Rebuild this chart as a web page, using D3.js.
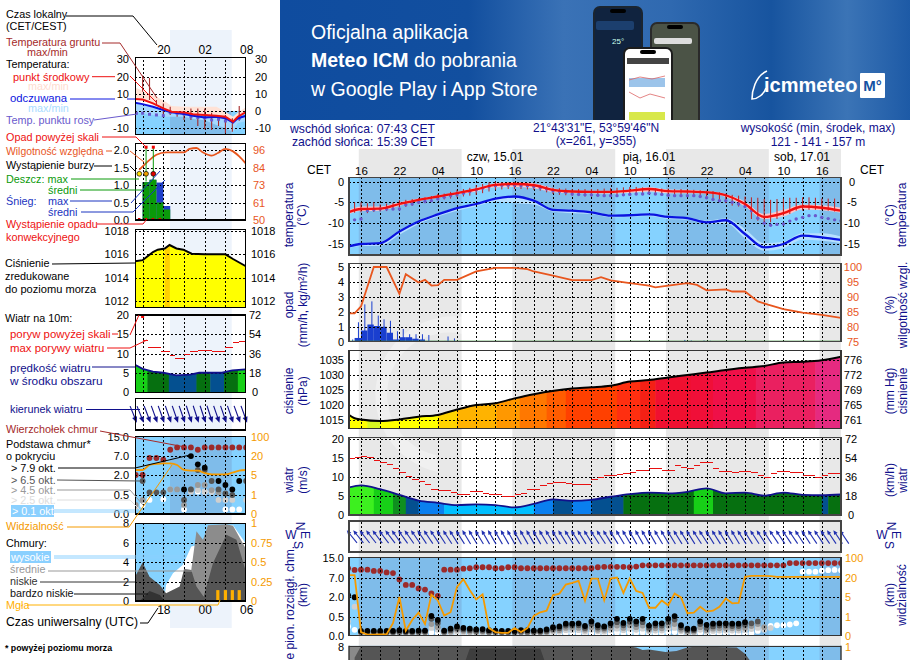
<!DOCTYPE html>
<html><head><meta charset="utf-8">
<script src="https://cdn.jsdelivr.net/npm/d3@7/dist/d3.min.js"></script>
<style>html,body{margin:0;padding:0;background:#fff}svg{display:block}text{font-family:"Liberation Sans",Arial,sans-serif}</style>
</head><body><script>
// ---------- time axes ----------
const hours = d3.range(-2,76);
const gridHours = d3.range(0,73,3);
const labelHours = d3.range(0,73,6);
const hourLabels = ["16","22","04","10","16","22","04","10","16","22","04","10","16"];
const dayNames = ["czw, 15.01","pią, 16.01","sob, 17.01"];
const nightSpans = [[-0.35,15.72],[23.65,39.72],[47.65,63.72],[71.65,76]];
// ---------- main: temperature ----------
const lineHours = [-2,0,3,6,9,12,15,18,21,24,27,30,33,36,39,42,45,48,51,54,57,60,63,66,69,72,75];
const tempMid = [-7.4,-6.6,-6.5,-5.4,-4.4,-3.6,-2.8,-1.9,-.8,-.6,-.9,-2,-2.4,-2.5,-2.5,-2.2,-1.8,-2.3,-2.4,-2.6,-3.3,-5.4,-8.5,-7.6,-6,-6.3,-7];
const tempMidHi = [-7,-6,-6,-5,-4.1,-3.3,-2.5,-1.5,-.4,-.1,-.4,-1.6,-2.2,-2.2,-2.2,-1.9,-1.4,-1.9,-2,-2.3,-3,-4.8,-7.8,-6.8,-5.5,-5.7,-6.3];
const tempMidLo = [-7.9,-7.1,-7,-5.8,-4.7,-3.9,-3.2,-2.4,-1.4,-1.3,-1.6,-2.5,-2.8,-2.8,-2.9,-2.7,-2.4,-2.8,-2.8,-2.9,-3.7,-6,-9,-8.4,-6.7,-6.9,-7.5];
const tempFeel = [-15.6,-15,-14.8,-12,-9.6,-7.9,-6.4,-5.4,-4.1,-3.6,-4.6,-6.8,-7,-7.4,-8.2,-8.1,-7.9,-8.5,-8.8,-9.8,-9.3,-12.6,-15.8,-15,-13,-13.4,-14];
const tempFeelHi = [-15.4,-14.8,-14.5,-11.7,-9.4,-7.7,-6.2,-5.2,-3.9,-3.4,-4.4,-6.6,-6.8,-7.2,-8,-7.9,-7.7,-8.3,-8.6,-9.4,-8.9,-11.4,-14.8,-14.4,-12.4,-12.4,-13.2];
const tempFeelLo = [-16,-15.5,-15.4,-12.8,-10.2,-8.4,-7,-6,-4.8,-5.2,-5.5,-7.2,-7.6,-7.8,-8.6,-8.5,-8.3,-9,-9.2,-10.2,-10,-13.6,-16.6,-16,-14,-14.2,-14.8];
const dewPoint = [-9.4,-9.2,-9,-7,-6.8,-6.6,-6.6,-6.6,-6.6,-5.6,-5.4,-5,-4.8,-4.6,-4.2,-3.8,-3.4,-3.1,-2.8,-2.4,-2,-1.6,-1.2,-1,-.9,-.9,-.9,-1,-1,-1.2,-1.5,-1.8,-2.2,-2.4,-2.6,-3,-3.1,-3.2,-3.2,-3.3,-3.4,-3.4,-3.4,-3.2,-3.1,-3,-3,-2.8,-3,-3.1,-3.3,-3.4,-3.4,-3.4,-3.4,-3.6,-3.9,-4.3,-4.6,-4.6,-5,-5.4,-6,-7,-8.8,-10,-10.5,-10.3,-10.2,-9.5,-9,-8.6,-8.2,-8.2,-8.6,-8.9,-9.2,-9.4];
const groundHours = d3.range(-1,76);
const groundMax = [-5,-5,-5.2,-5,-5.5,-5.3,-5.1,-4.5,-4.4,-4.2,-4,-3.8,-3.5,-3,-2.9,-2.5,-2,-1.8,-1.5,-.9,-.6,-.2,0,-.2,-.2,-.2,-.3,-.4,-.5,-.8,-1.1,-1.5,-1.6,-1.7,-1.8,-1.8,-1.8,-1.8,-1.8,-1.7,-1.6,-1.5,-1.4,-1.3,-1.3,-1.4,-1.5,-1.6,-1.7,-1.7,-1.8,-1.8,-1.9,-2,-2.1,-2.2,-2.3,-2.6,-2.9,-3.2,-3.4,-3.6,-3.8,-3.9,-4.2,-4.4,-4.2,-4.1,-3.9,-3.9,-3.8,-3.8,-3.9,-4.1,-4.1,-4.1,-4.1];
const groundMin = [-7.5,-7.4,-7.6,-7.3,-7.2,-7.1,-6.8,-6.2,-6.1,-5.8,-5.3,-5.2,-4.9,-4.4,-4.3,-4.1,-3.8,-3.6,-3.4,-3.2,-2.8,-2.4,-2,-1.9,-1.8,-1.8,-1.8,-1.9,-2,-2.2,-2.6,-3,-3.2,-3.3,-3.4,-3.5,-3.6,-3.6,-3.6,-3.5,-3.4,-3.2,-3,-2.9,-2.9,-3,-3,-3.1,-3.1,-3.2,-3.2,-3.2,-3.3,-3.4,-3.5,-3.7,-4,-4.6,-5.2,-5.8,-6,-6.2,-9,-9.4,-9.8,-9.8,-9,-8.2,-7.8,-7,-7,-6.8,-6.8,-6.8,-7,-7.2,-7.4];
// ---------- main: precipitation, humidity ----------
const rainHours = [-1,0,1,2,3,4,5,6,7,8,9,10,11,13];
const rainMean = [.25,.75,1.15,1.05,1,.6,.15,.3,.3,.2,.15,.05,.05,.05];
const spikeHours = [-1.3,-.4,.6,1.7,2.7,3.6,4.6,5.7,6.6,7.6,8.6,9.6,10.6,13.6,14.6,17.6,26.6,38.6,45.6,50.6,51.6,53.6,54.6,56.6];
const spikeMax = [.15,1.3,2.5,2.7,1.75,1.5,1.4,.7,.85,.5,.5,.5,.45,.35,.22,.03,.03,.03,.03,.12,.08,.08,.06,.03];
const humHours = [-2,-1,0,2,4,6,7,9,10,11,12,13,15,18,21,24,26,27,30,33,36,37.5,39,42,45,46,48,51,52.5,54,57,58,60,62,63.6,66,69,72,75];
const humidity = [84.5,84.5,86.8,100,100,91,97.6,94.8,95.7,93.8,93.9,95.7,95.7,98.5,99.7,99.7,99.3,98.5,97.1,95.6,95.6,96.6,95.5,94.6,93.8,93.2,93.8,94.6,94,92.2,92.5,91.8,91.8,88.5,87.4,85.9,84.7,84,83];
// ---------- main: pressure ----------
const presHours = [-2,-1,0,3,6,9,12,15,18,21,24,27,33,36,39,42,45,48,51,54,57,60,63,66,69,72,75];
const pressure = [1016.9,1015.6,1015.2,1014.7,1015.2,1016.1,1016.7,1018.5,1020,1020.6,1022.2,1023.6,1025.5,1025.9,1026.4,1027.8,1028.3,1029.2,1030,1030.8,1031.7,1032.4,1033,1034.2,1034.4,1034.9,1036.1];
const presEdges = [-2,1,3,12,15,21.2,24.8,29,32,40,43.6,46,51.5,55,61.7,71,76];
const presColors = ["#ffff00","#d8f820","#ffff00","#ffd400","#ffb300","#ff9800","#ff7800","#ff5c00","#ff4000","#ff2f10","#f42015","#f01030","#f00f38","#ef1048","#ea2060","#e52a80"];
// ---------- main: wind ----------
const windSpeed = [7.2,7.8,6.8,5.3,3.8,3.2,2.6,2.8,2.6,2,2.9,4.1,3.7,4,4.8,5.5,5.9,5.7,6.1,7,5.7,5.9,5.1,5.9,5.3,5.2,5.4];
const windEdges = [-2,2,5,7,9,13,27,30,33,36,41,52,55,72,73,76];
const windColors = ["#3df01f","#17cf17","#0f8f1f","#045090","#0a7fef","#00bfff","#0a7fef","#045090","#0a7fef","#045090","#067010","#17cf17","#067010","#045090","#067010"];
const gusts = [15,15.2,15.5,15.2,14.4,13.8,13.2,12.3,11.3,10.2,9.3,8.8,7.9,6.8,6.4,6.4,5.8,5.5,5.5,6.3,6.3,5.7,5.5,5.5,5,5,5.4,5.7,6.6,6.6,7.8,8.4,8.6,8.6,8.2,7.9,8.1,8.1,9.4,10,10.4,10.4,10.6,11,11.2,11.7,11.7,12.2,12.2,11.7,11.7,12.9,12.4,12.2,12.9,13.7,13.7,12.3,11.5,11.5,11.2,11.5,11.5,11.2,10.4,10,10.8,11.5,11.5,11.3,11.1,10.5,10.5,10,10.5,11,11];
const windDir = [141,141,142,142,143,143,143,144,144,145,145,146,146,146,147,147,148,148,149,149,149,150,150,150,150,151,151,150,150,150,149,149,149,148,148,148,148,148,147,147,148,148,149,149,150,150,150,150,149,149,149,148,148,148,147,147,148,148,149,149,149,148,148,147,147,147,146,146,146,146,147,147,146,146,146,146,146,146];
// ---------- main: cloud base ----------
const cloudTop = [10.8,10.1,10.2,10.2,9.7,9.7,9.1,8.8,6.5,5.1,5.1,4.2,3.9,2.9,2.3,10.2,10.2,10.2,10.6,10.8,11.2,11.2,11.2,10.8,10.8,11.2,11.2,10.8,10.8,10.8,10.8,10.8,10.8,10.8,10.8,10.8,10.8,10.8,10.8,11.2,11.4,11.4,11.4,11.4,11.2,11.5,12,12,12,12,12,12,12,12,12,12,12,12,12,12,12,12,12,12,12,12,12,12,12,12.9,12.9,12.9,12.9,12.9,12.9,12.9,12.9,12.9];
const n = null;
const base79 = [2.43,1.98,.12,.12,.12,.12,.12,.12,.14,.12,.12,.13,.13,.54,.41,.13,.18,.24,.2,.18,.16,.17,.14,.13,.12,.12,.12,.14,.14,.13,.13,.16,.22,.24,.31,.31,.32,.25,.37,.27,.24,.32,.44,.33,.44,.37,.44,.26,.32,.32,.44,.53,.27,.18,.18,.37,.28,.31,.32,.32,.31,.31,.35,n,n,n,n,n,n,n,n,n,n,n,n,n,n,n];
const base65 = [n,n,.09,.09,.09,.09,.09,.09,.1,.09,.09,.1,.1,.44,.33,.1,.14,.19,.16,.14,.12,.13,.1,.1,.09,.09,.09,.1,.1,.1,.1,.12,.17,.19,.26,.26,.27,.2,.3,.21,.2,.27,.35,.27,.36,.3,.35,.2,.26,.26,.35,.42,.21,.14,.14,.3,.2,.24,.26,.26,.25,.25,.28,.32,.37,n,n,n,n,n,n,n,n,n,n,n,n,n];
const base45 = [n,n,.07,.07,.07,.07,.07,.07,.08,.07,.07,.08,.08,.3,.22,.08,.1,.15,.12,.1,.09,.1,.08,.08,.07,.07,.07,.08,.08,.08,.08,.09,.13,.14,.2,.2,.2,.15,.22,.15,.15,.2,.26,.2,.27,.22,.26,.15,.19,.19,.26,.3,.15,.1,.1,.22,.14,.18,.19,.19,.19,.19,.2,.25,.3,.22,n,n,n,n,n,n,n,n,n,n,n,n];
const base25 = [.37,1.25,.05,.05,.05,.05,.05,.05,.06,.05,.05,.06,.06,.2,.15,.06,.07,.1,.08,.07,.06,.07,.06,.06,.05,.05,.05,.06,.06,.06,.06,.07,.09,.1,.14,.14,.14,.1,.15,.11,.1,.14,.18,.14,.18,.15,.18,.11,.13,.13,.18,.2,.11,.07,.07,.15,.1,.12,.13,.13,.13,.13,.14,.17,.2,.15,.2,n,n,n,n,n,n,n,n,n,n,n];
const base01 = [.24,.15,.02,.02,.02,.02,.02,.02,.03,.02,.02,.03,.03,.08,.06,.03,.04,.05,.04,.04,.03,.04,.03,.03,.02,.02,.02,.03,.03,.03,.03,.04,.05,.05,.06,.06,.06,.05,.07,.05,.05,.06,.08,.06,.08,.07,.08,.05,.06,.06,.08,.09,.05,.04,.04,.07,.05,.06,.06,.06,.06,.04,.04,.06,.12,.19,.25,.27,.27,.29,.32,n,n,n,n,n,n,n];
const baseHighHours = [69,70,71,72,73,74,75];
const baseHigh = [9.4,9.4,9.4,9.8,10,10.1,10];
const visibility = [29.8,29.8,.18,.05,.05,.06,.07,.65,5,.25,.82,1.8,.6,6.8,4.3,1.2,1.87,12.8,18.7,10.2,4.5,7,.39,.18,.14,.14,.39,.18,.39,1.13,1.87,2.2,6.3,7.6,14.6,15.9,17.4,4.2,19.2,19.2,4.3,19.2,20,8.1,19.2,9.7,8.1,2.8,2.8,4.3,3.3,7.6,4.9,1.67,1.8,3,2,2.2,3,4.7,3.7,3.8,22.8,27,27,27,26,22.8,22.8,22.8,22.8,22.8,22.8,22.8,22.8,22.8,22.8,22.8];
// ---------- main: cloud cover (top strip) ----------
const midHours = [-2,0];
const midCloud = [8.1,8.1];
const lowHours = [-1,0,41.5,43,44,45,47.6,49.3,51,52.5,58.7,60,60.8,61.5];
const lowCloud = [6.9,8.1,8.1,7.95,7.7,7.75,7.5,7.6,7.95,8.05,7.95,7.3,6.6,5];
const vlowHours = [16,17,28,29];
const vlowCloud = [6,7.85,7.85,6];
const fogHours = [0,1.1,2.1,3,4];
const fogLevel = [.5,.5,.5,.5,.5];
// ---------- mini (today) ----------
const miniHours = d3.range(-4,13);
const miniGrid = [-3,0,3,6,9];
const miniTop = ["20","02","08"], miniBottom = ["18","00","06"];
const miniNight = [0.97,9.91];
const mLineHours = [-4.1,-3,-1.5,0,1.2,3,4.3,6,7.7,9,10.1,10.8,11.9];
const mTemp = [7,6.7,4.4,1.5,-.4,-.8,-1.9,-2.3,-2.7,-3.3,-6.2,-3.3,-.8];
const mFeel = [4.8,4,2.5,.6,-.8,-1.7,-2.7,-3.8,-3.3,-4.2,-6.7,-4.2,-2.9];
const mTempHi = [13.6,11.7,9.2,6.3,2.9,2.5,2.5,2.5,2.5,-.4,-3.3,-1,2];
const mFeelLo = [-.8,-1.5,-2.3,-3.3,-3.3,-3.3,-4.6,-5.4,-8.1,-10,-12,-7,-6];
const mDewHours = [-3.9,-3,-2,-1,0,1,2,3,4,5,6,7,8,9,11];
const mDew = [-1.3,-1.3,-1.9,-2.3,-2.7,-.8,-1.3,-1.7,-3.3,-3.8,-4,-5.2,-4.8,-5.8,-4.2];
const mGroundHours = [-3,-2,-1,0,1,2,3,4,5,6,7,8,9,10,11];
const mGroundMax = [20.6,19.2,6.4,4.4,2.5,-.4,-.4,1.5,1.5,1.5,-1,-2.3,-2.3,-4.2,2.9];
const mGroundMin = [11.2,6.4,3.5,-2.3,-2.3,-3.3,-5.2,-5.2,-8.7,-10.6,-11,-8.7,-12.9,-12,-5.6];
const mRainHours = [-4.1,-3,-2,-1,0,1];
const mRain = [.93,1.08,1.15,.5,.3,.02];
const mSnow = [0,0,0,1.07,.4,0];
const mHumHours = [-3.5,-2.5,-1,.4,3,3.8,4.8,5.7,7,7.9,9,10.1,11,11.9];
const mHumidity = [83,87.4,92.9,94.5,94.5,96.7,97.3,94.5,92.3,94,96.7,95.1,91.8,87.4];
const mThunderHours = [-3.48,-2.5,-1.45];
const mThunderColors = ["#ffe000","#f0a000","#e00000"];
const mOverHours = [-2.5,-1.45];
const mConvective = [-3.5,-2.5,-1.5,-.5];
const mPresHours = [-4.1,-3,-1.5,-.8,.2,.9,1.9,2.9,4.1,6,9,10.1,11.9];
const mPressure = [1015.4,1015.5,1016.2,1016.4,1016.5,1016.8,1016.5,1016.4,1016.05,1016,1016,1015.6,1015];
const mPresEdges = [-4.1,.2,.95,11.9];
const mPresColors = ["#ffff00","#ffd000","#ffff00"];
const mWindHours = [-4.1,-3,-1.5,0,1.9,3.9,5.2,8.5,10,11.9];
const mWind = [7.1,6,5.3,5,4.3,4.5,5,5,5.6,5.9];
const mWindEdges = [-4.1,-2.3,.8,4.8,6.8,8.8,10.8,11.9];
const mWindColors = ["#17cf17","#067010","#045090","#067010","#045090","#067010","#17cf17"];
const mGustStart = [-3,-2.2,-.3,.9,1.7,3,3.9,5,7,9,10.1,10.9];
const mGustEnd   = [-2.2,-.3,.9,1.7,3,3.9,5,7,9,10.1,10.9,11.9];
const mGust = [13.5,11.6,10.6,9.6,8.8,9.7,10.5,10.9,10.6,11.6,12.8,13];
const mDir = [338,338,339,340,340,341,341,341,342,342,342,342,341,341,341,340,340];
const mCloudTop = [2,2,6.4,6.4,6,9.5,10.5,10.5,10.5,9.5,10.5,10.5,10.5,10.5,10.5,10.5,10.5];
const mBase79 = [n,n,n,n,n,n,n,.92,6.9,4.76,3.9,n,1.55,1.25,.92,1.55,n];
const mBase65 = [n,1.55,.7,.7,.7,n,n,.37,.92,3.3,3.3,1.55,.92,.62,.5,n,1.55];
const mBase45 = [.24,.37,n,n,n,.92,.92,.24,.92,1.25,1.25,.87,.7,n,n,n,n];
const mBase25 = [.19,n,n,n,n,.92,n,n,.75,.87,.75,.75,.37,.37,.37,n,.37];
const mBase01 = [n,.24,.37,n,.39,n,n,.12,n,.75,.75,.75,n,.12,.12,.12,n];
const mVis = [8.9,8.9,12.8,13.6,14.1,14.1,12.8,8.9,8.4,8.4,6.5,5.5,5.5,5.5,6.8,8.4,8.9];
const mHighHours = [.1,.4,1.4,2.85,4.05,5.25,6.2,7.2,10.1,11.9];
const mHigh = [0,1.66,2.86,3.72,5.62,5.8,6.66,7.7,7.8,5.97];
const mMidHours = [2.37,3,4.05,4.8,5.75,6.47,9.13,10.1,11.9];
const mMid = [0,3.28,3.2,7.17,6.3,7.8,7.9,7.75,5.45];
const mLowHours = [-4.1,-3,-2,-.5,.4,2.37,3,4.05,4.8,5.85,7.2,9.13,10.6,11.9];
const mLow = [2.5,3.97,2.5,1.66,.8,1.5,3.28,3.2,1.5,.45,3.9,6.83,6.3,3.2];
const mVlowHours = [-3.4,-2,-.5,.2];
const mVlow = [0,1.03,.62,0];
const mFogHours = [7.9,9,10,11];
const mFog = [.14,.14,.14,.14];

// ---------- layout ----------
const X = d3.scaleLinear().domain([-1.875,75]).range([349,841]);
const MX = d3.scaleLinear().domain([-4.06,11.88]).range([135.3,245.3]);
const ORANGE="#f59a00", HUM="#e8561e", NAVY="#10108c", NIGHTB="#7fbcea", DAYB="#85d2ff";
const TS=11, LS=10.8;
const svg = d3.select("body").append("svg").attr("width",910).attr("height",660);
const defs = svg.append("defs");
let clipN=0;
function clipRect(x0,y0,x1,y1){const id="c"+(++clipN);defs.append("clipPath").attr("id",id).append("rect").attr("x",x0).attr("y",y0).attr("width",x1-x0).attr("height",y1-y0);return id;}
function T(p,s,x,y,o={}){return p.append("text").attr("x",x).attr("y",y).attr("dy",".35em").attr("font-size",o.size||12).attr("font-weight",o.weight||null).attr("fill",o.fill||"#000").attr("text-anchor",o.anchor||"start").attr("font-family",o.font||null).text(s);}
function VT(p,s,x,y,o={}){return p.append("text").attr("transform",`translate(${x},${y}) rotate(-90)`).attr("dy",".35em").attr("font-size",o.size||12).attr("fill",o.fill||NAVY).attr("text-anchor",o.anchor||"middle").text(s);}
function yTicks(p,scale,vals,fmt,x,anchor,color,size){
  const g=p.append("g").attr("transform",`translate(${x},0)`).call(d3.axisLeft(scale).tickValues(vals).tickFormat((d,i)=>fmt[i]).tickSize(0).tickPadding(0));
  g.select(".domain").remove();
  g.selectAll("text").attr("x",0).attr("text-anchor",anchor).attr("fill",color).attr("font-size",size||TS).attr("font-family",null);
  return g;
}
function grid(p,xs,xv,ys,yv,y0,y1){
  const x0=xs.range()[0],x1=xs.range()[1];
  const gx=p.append("g").attr("transform",`translate(0,${y1})`).call(d3.axisBottom(xs).tickValues(xv).tickSize(y0-y1).tickFormat(""));
  gx.select(".domain").remove();
  gx.selectAll("line").attr("stroke","#000").attr("stroke-dasharray","2,2").attr("shape-rendering","crispEdges");
  if(yv&&yv.length){
    const gy=p.append("g").attr("transform",`translate(${x0},0)`).call(d3.axisRight(ys).tickValues(yv).tickSize(x1-x0).tickFormat(""));
    gy.select(".domain").remove();
    gy.selectAll("line").attr("stroke","#000").attr("stroke-dasharray","2,2").attr("shape-rendering","crispEdges");
  }
}
function frame(p,xs,y0,y1,c,w){const r=xs.range();p.append("rect").attr("x",r[0]).attr("y",y0).attr("width",r[1]-r[0]).attr("height",y1-y0).attr("fill","none").attr("stroke",c).attr("stroke-width",w).attr("shape-rendering","crispEdges");}
function lineOf(xs,ys,hs,curve){return d3.line().defined(d=>d!=null).x((d,i)=>xs(hs[i])).y(d=>ys(d)).curve(curve||d3.curveLinear);}
function bandArea(xs,ys,hs,hi,lo,curve){return d3.area().x((d,i)=>xs(hs[i])).y0((d,i)=>ys(lo[i])).y1((d,i)=>ys(hi[i])).curve(curve||d3.curveLinear)(hs);}
function dots(p,xs,ys,hs,vals,color,r){
  p.append("g").selectAll("circle").data(hs.map((h,i)=>({h,v:vals[i]})).filter(d=>d.v!=null&&d.v!==undefined)).join("circle")
   .attr("cx",d=>xs(d.h)).attr("cy",d=>ys(d.v)).attr("r",r).attr("fill",color);
}
function colorBands(p,xs,edges,colors,y0,y1,clipId){
  p.append("g").attr("clip-path",`url(#${clipId})`).selectAll("rect").data(colors).join("rect")
   .attr("x",(d,i)=>xs(edges[i])).attr("width",(d,i)=>xs(edges[i+1])-xs(edges[i])+.5).attr("y",y0).attr("height",y1-y0).attr("fill",d=>d);
}
function clipPathOf(d){const id="c"+(++clipN);defs.append("clipPath").attr("id",id).append("path").attr("d",d);return id;}
function arrows(p,xs,hs,dirs,yHead,L,hw,col){
  p.append("g").selectAll("g").data(hs).join("g").attr("transform",(h,i)=>`translate(${xs(h)},${yHead}) rotate(${dirs[i]})`).each(function(){
    const g=d3.select(this);
    g.append("line").attr("y1",0).attr("y2",-L).attr("stroke",col).attr("stroke-width",1.1);
    g.append("path").attr("d",`M0,${hw*1.1}L${-hw},${-hw*1.2}L${hw},${-hw*1.2}Z`).attr("fill",col);
  });
}
function dayNightBg(p,xs,spans,y0,y1){
  const r=xs.range();
  p.append("rect").attr("x",r[0]).attr("y",y0).attr("width",r[1]-r[0]).attr("height",y1-y0).attr("fill",DAYB);
  p.append("g").selectAll("rect").data(spans).join("rect").attr("x",d=>Math.max(r[0],xs(d[0]))).attr("width",d=>Math.min(r[1],xs(d[1]))-Math.max(r[0],xs(d[0]))).attr("y",y0).attr("height",y1-y0).attr("fill",NIGHTB);
}

// ---------- banner ----------
const bgrad=defs.append("linearGradient").attr("id","bn").attr("x1","0").attr("x2","1").attr("y1","0").attr("y2","0");
[[0,"#0f4c9f"],[.3,"#124f9f"],[.45,"#3a72b6"],[.62,"#2f69b0"],[.78,"#17549f"],[.9,"#3b74b6"],[1,"#1d5aa6"]].forEach(s=>bgrad.append("stop").attr("offset",s[0]).attr("stop-color",s[1]));
const bn=svg.append("g").attr("clip-path",`url(#${clipRect(280,0,910,120)})`);
bn.append("rect").attr("x",280).attr("y",0).attr("width",630).attr("height",120).attr("fill","url(#bn)");
const OS='"Open Sans","Liberation Sans",sans-serif';
T(bn,"Oficjalna aplikacja",311,32,{size:19.5,fill:"#fff",font:OS});
const t2=T(bn,"",311,60,{size:19.5,fill:"#fff",font:OS});
t2.append("tspan").attr("font-weight",700).text("Meteo ICM");t2.append("tspan").text(" do pobrania");
T(bn,"w Google Play i App Store",311,89,{size:19.5,fill:"#fff",font:OS});
[[593,6,50,114,"#1b2530","#10233f"],[650,22,50,98,"#2a2a2a","#4b5346"]].forEach(a=>{
  bn.append("rect").attr("x",a[0]).attr("y",a[1]).attr("width",a[2]).attr("height",a[3]+10).attr("rx",7).attr("fill",a[4]);
  bn.append("rect").attr("x",a[0]+2).attr("y",a[1]+2).attr("width",a[2]-4).attr("height",a[3]+6).attr("rx",5).attr("fill",a[5]);
  bn.append("rect").attr("x",a[0]+17).attr("y",a[1]+3).attr("width",16).attr("height",4).attr("rx",2).attr("fill","#000");
});
bn.append("rect").attr("x",596).attr("y",21).attr("width",38).attr("height",9).attr("rx",2).attr("fill","#1c3f6e");
T(bn,"25°",612,41,{size:8,fill:"#cfe",font:OS});
bn.append("rect").attr("x",654).attr("y",38).attr("width",38).attr("height",6).attr("rx",2).attr("fill","#ddd");
bn.append("rect").attr("x",623).attr("y",47).attr("width",50).attr("height",80).attr("rx",7).attr("fill","#1c1c1c");
bn.append("rect").attr("x",625).attr("y",49).attr("width",46).attr("height",76).attr("rx",5).attr("fill","#fff");
bn.append("rect").attr("x",640).attr("y",50).attr("width",16).attr("height",4).attr("rx",2).attr("fill","#000");
bn.append("rect").attr("x",627).attr("y",58).attr("width",42).attr("height",6).attr("fill","#444");
bn.append("rect").attr("x",629).attr("y",78).attr("width",36).attr("height",9).attr("fill","#9cc4ea");
bn.append("rect").attr("x",629).attr("y",112).attr("width",36).attr("height",8).attr("fill","#d8e84a");
bn.append("path").attr("d","M629,80L640,77L652,79L665,76M629,92L640,98L650,94L665,98").attr("fill","none").attr("stroke","#d66").attr("stroke-width",.8);
T(bn,"icmmeteo",764,85,{size:20,fill:"#fff",weight:700,font:OS});
bn.append("path").attr("d","M767,71C755,76 752,92 752,99C758,99 764,94 766,88").attr("fill","none").attr("stroke","#fff").attr("stroke-width",1.6);
bn.append("rect").attr("x",860).attr("y",73).attr("width",25).attr("height",25).attr("rx",1).attr("fill","#fff");
T(bn,"M°",872.5,85.5,{size:15,fill:"#1452a3",weight:700,anchor:"middle",font:OS});

// ---------- mini highlight ----------
svg.append("rect").attr("x",170).attr("y",30).attr("width",61.7).attr("height",598).attr("fill","#edf3fb");
const cols=svg.append("g");
cols.selectAll("rect").data(nightSpans).join("rect").attr("x",d=>Math.max(349,X(d[0]))).attr("width",d=>Math.min(841,X(d[1]))-Math.max(349,X(d[0]))).attr("y",149).attr("height",511).attr("fill","#e8e8e8");
cols.append("path").attr("d","M470,318A75,75 0 1 0 438,472L436,455A58,58 0 1 1 462,334Z").attr("fill","#fff").attr("opacity",.35);

// ---------- header ----------
const hd=svg.append("g");
T(hd,"wschód słońca: 07:43 CET",290,129,{fill:NAVY,size:12.2});
T(hd,"zachód słońca: 15:39 CET",292,142,{fill:NAVY,size:12.2});
T(hd,"21°43'31\"E, 53°59'46\"N",596,128,{fill:NAVY,anchor:"middle"});
T(hd,"(x=261,  y=355)",596,141,{fill:NAVY,anchor:"middle"});
T(hd,"wysokość (min, środek, max)",818,128,{fill:NAVY,anchor:"middle"});
T(hd,"121 - 141 - 157 m",818,142,{fill:NAVY,anchor:"middle"});
T(hd,dayNames[0],495,157,{anchor:"middle"});
T(hd,dayNames[1],649,157,{anchor:"middle"});
T(hd,dayNames[2],802,157,{anchor:"middle"});
T(hd,"CET",319,170,{anchor:"middle"});
T(hd,"CET",872,170,{anchor:"middle"});
const topAx=hd.append("g").attr("transform","translate(0,175)").call(d3.axisTop(X).tickValues(labelHours).tickFormat((d,i)=>hourLabels[i]).tickSize(0).tickPadding(0));
topAx.select(".domain").remove();
topAx.selectAll("text").attr("font-size",11.5).attr("fill","#000").attr("font-family",null);

// ---------- main panels ----------
const P=svg.append("g");
{ // temperature
 const y0=177.3,y1=255,Y=d3.scaleLinear().domain([0,-15]).range([181.5,244]);
 const g=P.append("g"),id=clipRect(349,y0,841,y1);
 const c=g.append("g").attr("clip-path",`url(#${id})`);
 dayNightBg(c,X,nightSpans,y0,y1);
 c.append("path").attr("d",bandArea(X,Y,lineHours,tempFeelHi,tempFeelLo,d3.curveMonotoneX)).attr("fill","#b7e0ff");
 c.append("path").attr("d",bandArea(X,Y,lineHours,tempMidHi,tempMidLo,d3.curveMonotoneX)).attr("fill","#ffc4c8");
 grid(c,X,gridHours,Y,[0,-5,-10,-15],y0,y1);
 c.append("g").selectAll("line").data(groundHours).join("line").attr("x1",h=>X(h)).attr("x2",h=>X(h)).attr("y1",(h,i)=>Y(groundMax[i])).attr("y2",(h,i)=>Y(groundMin[i])).attr("stroke","#c02020").attr("stroke-width",1);
 dots(c,X,Y,hours,dewPoint,"#6a5acd",1.7);
 c.append("path").datum(tempFeel).attr("d",lineOf(X,Y,lineHours,d3.curveMonotoneX)).attr("fill","none").attr("stroke","#0a14e0").attr("stroke-width",2.3);
 c.append("path").datum(tempMid).attr("d",lineOf(X,Y,lineHours,d3.curveMonotoneX)).attr("fill","none").attr("stroke","#f01010").attr("stroke-width",2.3);
 frame(g,X,y0,y1,"#444",1.4);
 yTicks(g,Y,[0,-5,-10,-15],["0","-5","-10","-15"],344,"end","#000");
 yTicks(g,Y,[0,-5,-10,-15],["0","-5","-10","-15"],852,"middle","#000");
 VT(g,"temperatura",289,215);VT(g,"(°C)",302,215);VT(g,"(°C)",890,215);VT(g,"temperatura",902,215);
}
{ // precip
 const y0=263.3,y1=341.7,Y=d3.scaleLinear().domain([0,5]).range([y1,267]),R=d3.scaleLinear().domain([75,100]).range([y1,267]);
 const g=P.append("g"),id=clipRect(349,y0,841,y1);
 const c=g.append("g").attr("clip-path",`url(#${id})`);
 c.append("g").selectAll("rect").data(rainHours).join("rect").attr("x",h=>X(h)).attr("width",h=>X(h+1)-X(h)).attr("y",(h,i)=>Y(rainMean[i])).attr("height",(h,i)=>y1-Y(rainMean[i])).attr("fill","#1a3fcf");
 c.append("g").selectAll("line").data(spikeHours).join("line").attr("x1",h=>X(h)).attr("x2",h=>X(h)).attr("y1",y1).attr("y2",(h,i)=>Y(spikeMax[i])).attr("stroke","#1a3fcf").attr("stroke-width",1);
 grid(c,X,gridHours,Y,[1,2,3,4,5],y0,y1);
 c.append("path").datum(humidity).attr("d",lineOf(X,R,humHours)).attr("fill","none").attr("stroke",HUM).attr("stroke-width",1.8);
 c.append("line").attr("x1",349).attr("x2",841).attr("y1",y1-.5).attr("y2",y1-.5).attr("stroke","#2a8a2a");
 frame(g,X,y0,y1,"#444",1.4);
 yTicks(g,Y,[0,1,2,3,4,5],["0","1","2","3","4","5"],344,"end","#000");
 yTicks(g,R,[75,80,85,90,95,100],["75","80","85","90","95","100"],853,"middle",HUM);
 VT(g,"opad",289,305);VT(g,"(mm/h, kg/m²/h)",303,305);VT(g,"(%)",890,305);VT(g,"wilgotność wzgl.",903,305);
}
{ // pressure
 const y0=350.7,y1=428.3,Y=d3.scaleLinear().domain([1015,1035]).range([420,360]);
 const g=P.append("g"),id=clipRect(349,y0,841,y1);
 const c=g.append("g").attr("clip-path",`url(#${id})`);
 const a=d3.area().x((d,i)=>X(presHours[i])).y0(y1).y1(d=>Y(d)).curve(d3.curveMonotoneX)(pressure);
 colorBands(c,X,presEdges,presColors,y0,y1,clipPathOf(a));
 grid(c,X,gridHours,Y,[1015,1020,1025,1030,1035],y0,y1);
 c.append("path").datum(pressure).attr("d",lineOf(X,Y,presHours,d3.curveMonotoneX)).attr("fill","none").attr("stroke","#000").attr("stroke-width",2);
 frame(g,X,y0,y1,"#333",1.4);
 yTicks(g,Y,[1015,1020,1025,1030,1035],["1015","1020","1025","1030","1035"],344,"end","#000");
 yTicks(g,Y,[1015,1020,1025,1030,1035],["761","765","769","772","776"],853,"middle","#000");
 VT(g,"ciśnienie",289,391);VT(g,"(hPa)",303,391);VT(g,"(mm Hg)",890,391);VT(g,"ciśnienie",903,391);
}
{ // wind
 const y0=437.3,y1=515,Y=d3.scaleLinear().domain([0,20]).range([515,439]);
 const g=P.append("g"),id=clipRect(349,y0,841,y1);
 const c=g.append("g").attr("clip-path",`url(#${id})`);
 const a=d3.area().x((d,i)=>X(lineHours[i])).y0(y1).y1(d=>Y(d)).curve(d3.curveMonotoneX)(windSpeed);
 colorBands(c,X,windEdges,windColors,y0,y1,clipPathOf(a));
 grid(c,X,gridHours,Y,[5,10,15,20],y0,y1);
 c.append("path").datum(windSpeed).attr("d",lineOf(X,Y,lineHours,d3.curveMonotoneX)).attr("fill","none").attr("stroke","#10108c").attr("stroke-width",1.8);
 c.append("g").selectAll("line").data(gusts).join("line").attr("x1",(d,i)=>X(hours[i])).attr("x2",(d,i)=>X(hours[i]+1)).attr("y1",d=>Y(d)).attr("y2",d=>Y(d)).attr("stroke","#e81010").attr("stroke-width",1).attr("shape-rendering","crispEdges");
 frame(g,X,y0,y1,"#444",1.4);
 yTicks(g,Y,[0,5,10,15,20],["0","5","10","15","20"],344,"end","#000");
 yTicks(g,Y,[0,5,10,15,20],["0","18","36","54","72"],851,"middle","#000");
 VT(g,"wiatr",289,480);VT(g,"(m/s)",303,480);VT(g,"(km/h)",890,480);VT(g,"wiatr",903,480);
}
{ // direction
 const y0=521,y1=552,Y=d3.scaleLinear().domain([0,1]).range([y1,y0]);
 const g=P.append("g");
 grid(g,X,gridHours,Y,[],y0,y1);
 arrows(g,X,hours,windDir,532,14,2,"#2030b0");
 frame(g,X,y0,y1,"#444",1.4);
 [[300,526,"N",90],[291,535,"W",0],[298,545,"S",90],[305,535,"E",90],[891,526,"N",90],[882,535,"W",0],[889,545,"S",90],[896,535,"E",90]].forEach(a=>{
  g.append("text").attr("transform",`translate(${a[0]},${a[1]}) rotate(${a[3]})`).attr("text-anchor","middle").attr("dy",".35em").attr("font-size",12).attr("fill",NAVY).text(a[2]);
 });
}
const baseScale=(rng)=>d3.scaleLinear().domain([0,.5,2,7,15]).range(rng);
const visScale=(rng)=>d3.scaleLinear().domain([0,1,5,20,100]).range(rng);
{ // cloud base
 const y0=557.7,y1=635.7,rng=[635.5,616.5,597,577.5,558],Y=baseScale(rng),V=visScale(rng);
 const g=P.append("g"),id=clipRect(349,y0,841,y1);
 const c=g.append("g").attr("clip-path",`url(#${id})`);
 dayNightBg(c,X,nightSpans,y0,y1);
 dots(c,X,Y,hours,base01,"#fff",2.9);
 dots(c,X,Y,baseHighHours,baseHigh,"#fff",2.9);
 dots(c,X,Y,hours,base25,"#cfcfcf",2.9);
 dots(c,X,Y,hours,base45,"#9a9a9a",2.9);
 dots(c,X,Y,hours,base65,"#555",2.9);
 dots(c,X,Y,hours,base79,"#000",2.9);
 dots(c,X,Y,hours,cloudTop,"#9c2a2a",2.9);
 grid(c,X,gridHours,Y,[.5,2,7],y0,y1);
 c.append("path").datum(visibility).attr("d",lineOf(X,V,hours)).attr("fill","none").attr("stroke",ORANGE).attr("stroke-width",1.8);
 frame(g,X,y0,y1,"#333",1.4);
 yTicks(g,Y,[0,.5,2,7,15],["0.0","0.5","2.0","7.0","15.0"],344,"end","#000");
 yTicks(g,V,[0,1,5,20,100],["0","1","5","20","100"],845,"start",ORANGE);
 VT(g,"e pion. rozciągł. chm.",290,546,{anchor:"end"});VT(g,"(km)",303,595);VT(g,"(km)",890,595);VT(g,"widzialność",902,595);
}
{ // cloud cover strip
 const y0=645.7,y1=660,Y=d3.scaleLinear().domain([0,8]).range([725.4,647]),F=d3.scaleLinear().domain([0,1]).range([725.4,647]);
 const g=P.append("g"),id=clipRect(349,y0,841,y1);
 const c=g.append("g").attr("clip-path",`url(#${id})`);
 dayNightBg(c,X,nightSpans,y0,y1);
 const layer=(hs,vs,col)=>c.append("path").attr("d",d3.area().x((d,i)=>X(hs[i])).y0(725.4).y1(d=>Y(d))(vs)).attr("fill",col);
 layer(midHours,midCloud,"#8a8a8a");
 layer(lowHours,lowCloud,"#555");
 layer(vlowHours,vlowCloud,"#3e3e3e");
 grid(c,X,gridHours,Y,[],y0,y1);
 c.append("g").selectAll("rect").data(fogHours).join("rect").attr("x",h=>X(h)-1.2).attr("width",2.6).attr("y",(h,i)=>F(fogLevel[i])).attr("height",90).attr("fill","#ffb000");
 c.append("rect").attr("x",349).attr("y",y0).attr("width",492).attr("height",1.3).attr("fill","#333");
 g.append("line").attr("x1",349).attr("x2",349).attr("y1",y0).attr("y2",660).attr("stroke","#333").attr("stroke-width",1.4);
 g.append("line").attr("x1",841).attr("x2",841).attr("y1",y0).attr("y2",660).attr("stroke","#333").attr("stroke-width",1.4);
 yTicks(g,Y,[8],["8"],344,"end","#000");
 yTicks(g,Y,[8],["1"],845,"start",ORANGE);
}

// ---------- mini panels ----------
const M=svg.append("g");
{ // temperature
 const y0=57.3,y1=134.3,Y=d3.scaleLinear().domain([0,30]).range([111,59.3]);
 const g=M.append("g"),id=clipRect(135.3,y0,245.3,y1),c=g.append("g").attr("clip-path",`url(#${id})`);
 c.append("rect").attr("x",135.3).attr("y",y0).attr("width",110).attr("height",y1-y0).attr("fill","#fff");
 c.append("rect").attr("x",135.3).attr("y",111).attr("width",110).attr("height",y1-111).attr("fill",DAYB);
 c.append("rect").attr("x",MX(miniNight[0])).attr("y",y0).attr("width",MX(miniNight[1])-MX(miniNight[0])).attr("height",y1-y0).attr("fill","#edf3fb");
 c.append("rect").attr("x",MX(miniNight[0])).attr("y",111).attr("width",MX(miniNight[1])-MX(miniNight[0])).attr("height",y1-111).attr("fill",NIGHTB);
 c.append("path").attr("d",bandArea(MX,Y,mLineHours,mTempHi,mTemp)).attr("fill","#ffe2d6");
 c.append("path").attr("d",bandArea(MX,Y,mLineHours,mFeel,mFeelLo)).attr("fill","#a5d9ff");
 grid(c,MX,miniGrid,Y,[-10,0,10,20],y0,y1);
 c.append("g").selectAll("line").data(mGroundHours).join("line").attr("x1",h=>MX(h)).attr("x2",h=>MX(h)).attr("y1",(h,i)=>Y(mGroundMax[i])).attr("y2",(h,i)=>Y(mGroundMin[i])).attr("stroke","#a52a2a").attr("stroke-width",1.1);
 c.append("g").selectAll("rect").data(mDewHours).join("rect").attr("x",h=>MX(h)-1.5).attr("width",3).attr("y",(h,i)=>Y(mDew[i])-1.5).attr("height",3).attr("fill","#6a5acd");
 c.append("path").datum(mFeel).attr("d",lineOf(MX,Y,mLineHours)).attr("fill","none").attr("stroke","#0a14e0").attr("stroke-width",2);
 c.append("path").datum(mTemp).attr("d",lineOf(MX,Y,mLineHours)).attr("fill","none").attr("stroke","#f01010").attr("stroke-width",2);
 frame(g,MX,y0,y1,"#000",1.2);
 const v=[-10,0,10,20,30],f=["-10","0","10","20","30"];
 yTicks(g,Y,v,f,129,"end","#000");yTicks(g,Y,v,f,255,"start","#000");
 const ax=g.append("g").attr("transform","translate(0,54)").call(d3.axisTop(MX).tickValues([0,6,12]).tickFormat((d,i)=>miniTop[i]).tickSize(0).tickPadding(0));
 ax.select(".domain").remove();ax.selectAll("text").attr("font-size",12).attr("fill","#000").attr("font-family",null);
}
{ // precip
 const y0=143.3,y1=220,Y=d3.scaleLinear().domain([0,2]).range([220,150]),R=d3.scaleLinear().domain([50,96]).range([220,150]);
 const g=M.append("g"),id=clipRect(135.3,y0,245.3,y1+1),c=g.append("g").attr("clip-path",`url(#${id})`);
 const wid=h=>MX(Math.ceil(h)+(Number.isInteger(h)?1:0))-MX(h);
 c.append("g").selectAll("rect").data(mRainHours).join("rect").attr("x",h=>MX(h)).attr("width",wid).attr("y",(h,i)=>Y(Math.max(mRain[i],mSnow[i]))).attr("height",(h,i)=>y1-Y(Math.max(mRain[i],mSnow[i]))).attr("fill","#1f3fc8");
 c.append("g").selectAll("rect").data(mRainHours).join("rect").attr("x",h=>MX(h)).attr("width",wid).attr("y",(h,i)=>Y(mRain[i])).attr("height",(h,i)=>y1-Y(mRain[i])).attr("fill","#0a9a0a");
 grid(c,MX,miniGrid,Y,[.5,1,1.5,2],y0,y1);
 c.append("path").datum(mHumidity).attr("d",lineOf(MX,R,mHumHours,d3.curveMonotoneX)).attr("fill","none").attr("stroke",HUM).attr("stroke-width",1.8);
 c.append("g").selectAll("line").data(mOverHours).join("line").attr("x1",h=>MX(h)).attr("x2",h=>MX(h)).attr("y1",Y(2.08)).attr("y2",Y(1.1)).attr("stroke","#0a9a0a");
 c.append("g").selectAll("rect").data(mOverHours).join("rect").attr("x",h=>MX(h)-1.5).attr("width",3).attr("y",Y(2.08)-1.5).attr("height",3).attr("fill","#f00000");
 c.append("g").selectAll("circle").data(mThunderHours).join("circle").attr("cx",h=>MX(h)).attr("cy",Y(1.32)).attr("r",2.4).attr("fill",(h,i)=>mThunderColors[i]).attr("stroke","#000").attr("stroke-width",.7);
 c.append("g").selectAll("rect.cv").data(mConvective).join("rect").attr("x",h=>MX(h)-1.2).attr("width",2.4).attr("y",218).attr("height",2).attr("fill","#e00000");
 frame(g,MX,y0,y1,"#000",1.2);
 yTicks(g,Y,[0,.5,1,1.5,2],["0.0","0.5","1.0","1.5","2.0"],129,"end","#000");
 yTicks(g,R,[50,61.5,73,84.5,96],["50","61","73","84","96"],253,"start",HUM);
}
{ // pressure
 const y0=229.3,y1=307.3,Y=d3.scaleLinear().domain([1012,1018]).range([301,231]);
 const g=M.append("g"),id=clipRect(135.3,y0,245.3,y1),c=g.append("g").attr("clip-path",`url(#${id})`);
 const a=d3.area().x((d,i)=>MX(mPresHours[i])).y0(y1).y1(d=>Y(d))(mPressure);
 colorBands(c,MX,mPresEdges,mPresColors,y0,y1,clipPathOf(a));
 grid(c,MX,miniGrid,Y,[1012,1014,1016,1018],y0,y1);
 c.append("path").datum(mPressure).attr("d",lineOf(MX,Y,mPresHours)).attr("fill","none").attr("stroke","#000").attr("stroke-width",2);
 frame(g,MX,y0,y1,"#000",1.2);
 const v=[1012,1014,1016,1018],f=["1012","1014","1016","1018"];
 yTicks(g,Y,v,f,129,"end","#000");yTicks(g,Y,v,f,251,"start","#000");
}
{ // wind
 const y0=315,y1=392.3,Y=d3.scaleLinear().domain([0,20]).range([392,315]);
 const g=M.append("g"),id=clipRect(135.3,y0,245.3,y1),c=g.append("g").attr("clip-path",`url(#${id})`);
 const a=d3.area().x((d,i)=>MX(mWindHours[i])).y0(y1).y1(d=>Y(d))(mWind);
 colorBands(c,MX,mWindEdges,mWindColors,y0,y1,clipPathOf(a));
 grid(c,MX,miniGrid,Y,[5,10,15],y0,y1);
 c.append("path").datum(mWind).attr("d",lineOf(MX,Y,mWindHours)).attr("fill","none").attr("stroke","#10108c").attr("stroke-width",1.8);
 c.append("g").selectAll("line").data(mGust).join("line").attr("x1",(d,i)=>MX(mGustStart[i])).attr("x2",(d,i)=>MX(mGustEnd[i])).attr("y1",d=>Y(d)).attr("y2",d=>Y(d)).attr("stroke","#e81010").attr("shape-rendering","crispEdges");
 c.append("rect").attr("x",MX(-3)-1.5).attr("y",Y(19.6)-1.5).attr("width",3).attr("height",3).attr("fill","#f00000");
 frame(g,MX,y0,y1,"#000",1.2);
 yTicks(g,Y,[0,5,10,15,20],["0","5","10","15","20"],129,"end","#000");
 yTicks(g,Y,[0,5,10,15,20],["0","18","36","54","72"],255,"middle","#000");
}
{ // direction
 const y0=398.3,y1=430,Y=d3.scaleLinear().domain([0,1]).range([y1,y0]);
 const g=M.append("g");
 grid(g,MX,miniGrid,Y,[],y0,y1);
 arrows(g,MX,miniHours,mDir,420,15,2.6,"#10108c");
 frame(g,MX,y0,y1,"#000",1.2);
}
{ // cloud base
 const y0=436.7,y1=514,rng=[514,495,475,455.7,436.7],Y=baseScale(rng),V=visScale(rng);
 const g=M.append("g"),id=clipRect(135.3,y0,245.3,y1),c=g.append("g").attr("clip-path",`url(#${id})`);
 dayNightBg(c,MX,[miniNight],y0,y1);
 dots(c,MX,Y,miniHours,mBase01,"#fff",2.9);
 dots(c,MX,Y,miniHours,mBase25,"#cfcfcf",2.9);
 dots(c,MX,Y,miniHours,mBase45,"#9a9a9a",2.9);
 dots(c,MX,Y,miniHours,mBase65,"#555",2.9);
 dots(c,MX,Y,miniHours,mBase79,"#000",2.9);
 dots(c,MX,Y,miniHours,mCloudTop,"#9c2a2a",2.9);
 grid(c,MX,miniGrid,Y,[.5,2,7],y0,y1);
 c.append("path").datum(mVis).attr("d",lineOf(MX,V,miniHours,d3.curveMonotoneX)).attr("fill","none").attr("stroke",ORANGE).attr("stroke-width",1.8);
 frame(g,MX,y0,y1,"#000",1.2);
 yTicks(g,Y,[0,.5,2,7,15],["0.0","0.5","2.0","7.0","15.0"],129,"end","#000");
 yTicks(g,V,[0,1,5,20,100],["0","1","5","20","100"],251,"start",ORANGE);
}
{ // clouds
 const y0=523.3,y1=601,Y=d3.scaleLinear().domain([0,8]).range([601,523.3]),R=d3.scaleLinear().domain([0,1]).range([601,523.3]);
 const g=M.append("g"),id=clipRect(135.3,y0,245.3,y1),c=g.append("g").attr("clip-path",`url(#${id})`);
 c.append("rect").attr("x",135.3).attr("y",y0).attr("width",110).attr("height",y1-y0).attr("fill",DAYB);
 const layer=(hs,vs,col)=>c.append("path").attr("d",d3.area().x((d,i)=>MX(hs[i])).y0(601).y1(d=>Y(d))(vs)).attr("fill",col);
 layer(mHighHours,mHigh,"#fff");layer(mMidHours,mMid,"#8c8c8c");layer(mLowHours,mLow,"#555");layer(mVlowHours,mVlow,"#333");
 grid(c,MX,miniGrid,Y,[2,4,6],y0,y1);
 c.append("g").selectAll("rect").data(mFogHours).join("rect").attr("x",h=>MX(h)-1.6).attr("width",3.2).attr("y",(h,i)=>R(mFog[i])).attr("height",(h,i)=>601-R(mFog[i])).attr("fill","#ffb000");
 frame(g,MX,y0,y1,"#000",1.2);
 yTicks(g,Y,[0,2,4,6,8],["0","2","4","6","8"],129,"end","#000");
 yTicks(g,R,[0,.25,.5,.75,1],["0","0.25","0.5","0.75","1"],251,"start",ORANGE);
 const bx=g.append("g").attr("transform","translate(0,605)").call(d3.axisBottom(MX).tickValues([0,6,12]).tickFormat((d,i)=>miniBottom[i]).tickSize(0).tickPadding(0));
 bx.select(".domain").remove();bx.selectAll("text").attr("font-size",12).attr("fill","#000").attr("font-family",null);
}

// ---------- legend ----------
const BR="#a52a2a",GR="#0a9a0a",BL="#1a34c0",PU="#6a5acd",RED="#ee1010";
const legendText=[
["Czas lokalny",6,14.5,"#000"],["(CET/CEST)",6,26,"#000"],["Temperatura gruntu",6,42,BR],["max/min",27,52,BR],["Temperatura:",6,64,"#000"],
["punkt środkowy",13,76.7,RED,11],["max/min",28,86.5,"#ffdccf"],["odczuwana",10,98.5,"#0a14e0",11.3],["max/min",28,108,"#a8dcff"],["Temp. punktu rosy",6,120,PU],
["Opad powyżej skali",6,137.5,RED],["Wilgotność względna",6,151,HUM,10.4],["Wystąpienie burzy",6,165.5,"#000"],["Deszcz: max",6,179,GR],["średni",48,190,GR],
["Śnieg:",6,201,BL],["max",48,201,BL],["średni",48,212,BL],["Wystąpienie opadu",6,224,RED],["konwekcyjnego",6,237,RED],
["Ciśnienie",5,263.5,"#000"],["zredukowane",5,276,"#000"],["do poziomu morza",5,289.5,"#000",11.1],["Wiatr na 10m:",5,318,"#000"],["poryw powyżej skali",10,334,RED,11.4],["max porywy wiatru",10,348,RED,11.4],
["prędkość wiatru",10,368,NAVY,11.5],["w środku obszaru",10,381,NAVY,11.8],["kierunek wiatru",10,409,NAVY],["Wierzchołek chmur",6,429,BR],["Podstawa chmur*",6,444,"#000"],["o pokryciu",6,456,"#000"],
["> 7.9 okt.",11,468,"#000"],["> 6.5 okt.",11,480,"#555"],["> 4.5 okt.",11,490.5,"#999"],["> 2.5 okt.",11,500,"#ddd"],["Widzialność",6,526,ORANGE],
["Chmury:",6,543,"#000"],["średnie",10,569,"#999"],["niskie",10,581,"#333"],["bardzo niskie",10,593,"#111"],["Mgła",6,605,"#ffb000"],["Czas uniwersalny (UTC)",6,622,"#000",12.2]];
const legendLines=[
[[66,16],[133,16],[157,45],"#000"],[[102,43],[120,43],[157,98],BR],[[92,76.7],[115,76.7],RED],[[130,76],[157,103],RED],[[70,99],[115,99],"#0a14e0"],[[127,99],[135,99],"#0a14e0"],
[[94,120],[137,114],PU],[[102,137],[136,137],[145,146],RED],[[106,151],[112,151],HUM],[[130,151],[144,162],HUM],[[94,166],[112,166],"#000"],[[130,166],[136,172],"#000"],
[[71,179],[139,179],GR],[[80,190],[142,190],GR],[[70,201],[112,201],BL],[[131,203],[160,171],BL],[[81,212],[133,212],[165,180],BL],[[97,224],[143,224],[147,219],RED],
[[52,264],[135,263],"#000"],[[112,334],[118,334],RED],[[130,335],[139,315],RED],[[107,348],[130,348],[147,340],RED],[[92,367],[135,367],NAVY],[[86,409.5],[140,409.5],NAVY],
[[100,431],[185,447],BR],[[58,468],[135,468],[190,455],"#000"],[[57,480],[140,481],"#555"],[[57,490],[130,490],[143,505],"#999"],[[57,500],[130,500],[140,510],"#ddd"],
[[67,527],[129,527],[172,465],ORANGE],[[48,571],[193,571],"#999"],[[40,582],[135,582],"#333"],[[74,594],[148,594],"#111"],[[27,605],[218,605],[220,600],"#ffb000"],[[140,623],[148,623],[158,608],"#000"]];
const L=svg.append("g");
legendText.forEach(a=>T(L,a[0],a[1],a[2],{fill:a[3],size:a[4]||LS}));
legendLines.forEach(a=>{const c=a[a.length-1],p=a.slice(0,-1);L.append("path").attr("d",d3.line()(p)).attr("fill","none").attr("stroke",c).attr("stroke-width",1);});
[[11,505,43,12,"> 0.1 okt.",511,54,135],[10,551,41,12,"wysokie",557,54,185]].forEach(a=>{
 L.append("rect").attr("x",a[0]).attr("y",a[1]).attr("width",a[2]).attr("height",a[3]).attr("fill","#8ad0ff");
 T(L,a[4],a[0]+1,a[5],{fill:"#fff",size:LS});
 L.append("line").attr("x1",a[6]).attr("x2",a[7]).attr("y1",a[5]-1).attr("y2",a[5]-1).attr("stroke","#8ad0ff");
 L.append("line").attr("x1",a[6]).attr("x2",a[7]).attr("y1",a[5]+1).attr("y2",a[5]+1).attr("stroke","#8ad0ff");
});
T(L,"* powyżej poziomu morza",5,648,{size:8.8,weight:700});
</script></body></html>
